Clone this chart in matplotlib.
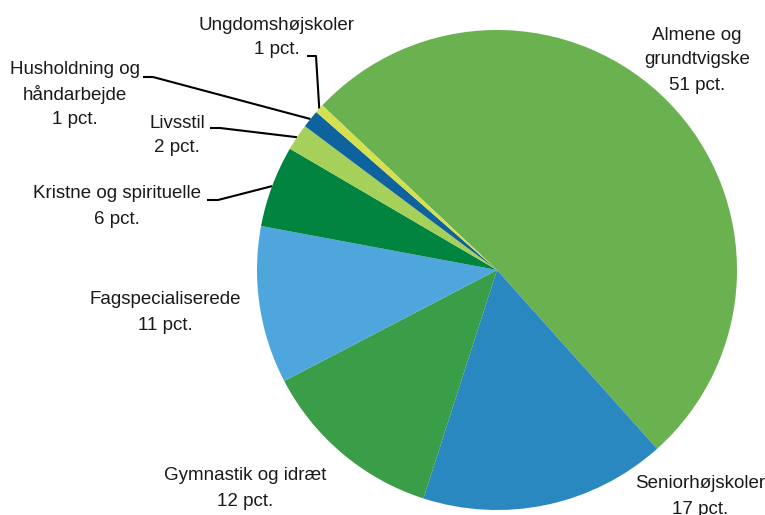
import matplotlib
matplotlib.use("Agg")
import matplotlib.pyplot as plt
import numpy as np

plt.rcParams['font.family'] = ['Liberation Sans', 'DejaVu Sans']

categories = ["Almene og\ngrundtvigske", "Seniorhøjskoler", "Gymnastik og idræt",
              "Fagspecialiserede", "Kristne og spirituelle", "Livsstil",
              "Husholdning og\nhåndarbejde", "Ungdomshøjskoler"]
values = [51.4, 16.6, 12.4, 10.6, 5.5, 1.8, 1.2, 0.6]
pct_labels = ["51 pct.", "17 pct.", "12 pct.", "11 pct.", "6 pct.", "2 pct.", "1 pct.", "1 pct."]
colors = ["#6ab150", "#2a88c0", "#3a9d47", "#4ea6dc", "#00843f", "#a5d05a", "#0e629d", "#d5e04e"]

W, H = 765, 515
fig = plt.figure(figsize=(W / 100, H / 100), dpi=100)
ax = fig.add_axes([0, 0, 1, 1])

cx, cy, R = 497, H - 270, 240
start = 136.7
wedges, _ = ax.pie(values, colors=colors, startangle=start, counterclock=False,
                   center=(cx, cy), radius=R, frame=True,
                   wedgeprops=dict(linewidth=0))
ax.set_xlim(0, W)
ax.set_ylim(0, H)
ax.set_aspect("equal")
ax.axis("off")

label_pos = {
    0: (697, 35),
    1: (700, 484),
    2: (245, 476),
    3: (165, 300),
    4: (117, 194),
    5: (177, 123),
    6: (75, 70),
    7: (277, 25),
}
fs = 13.5
for i, (x, y) in label_pos.items():
    lines = categories[i].split("\n") + [pct_labels[i]]
    for k, ln in enumerate(lines):
        ax.text(x, H - (y + 25 * k), ln, ha="center", va="center", color="#1a1a1a", fontsize=fs)

leaders = {
    7: ((307, 56), (316, 56)),
    6: ((143, 77), (153, 77)),
    5: ((210, 128), (220, 128)),
    4: ((207, 200), (218, 200)),
}
for i, (p0, p1) in leaders.items():
    w = wedges[i]
    mid = np.deg2rad((w.theta1 + w.theta2) / 2)
    ex, ey = cx + R * np.cos(mid), cy + R * np.sin(mid)
    ax.plot([p0[0], p1[0], ex], [H - p0[1], H - p1[1], ey], color="black", lw=1.5,
            solid_capstyle="butt", zorder=0.5)

fig.savefig("out.png", dpi=100)
